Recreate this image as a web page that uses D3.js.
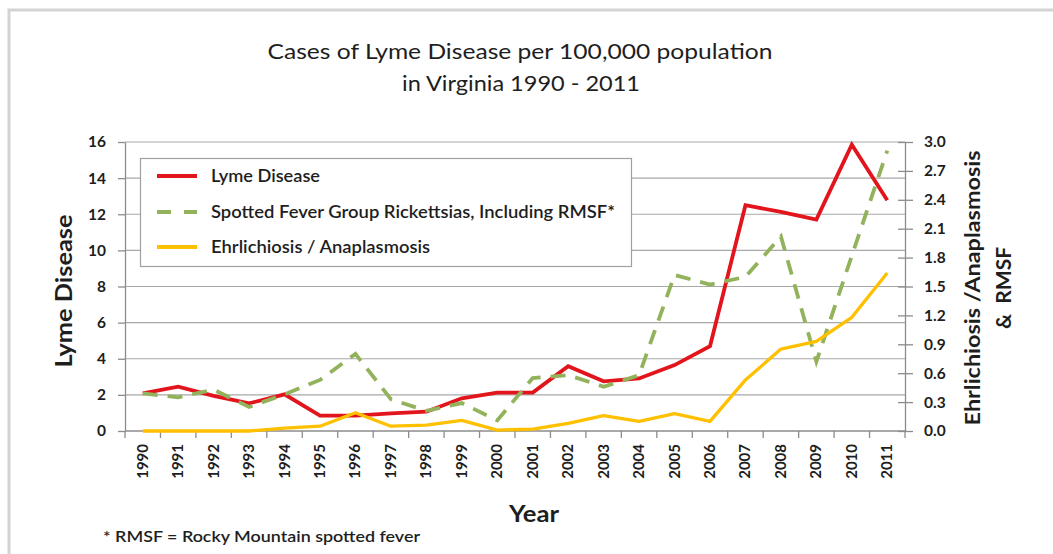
<!DOCTYPE html>
<html>
<head>
<meta charset="utf-8">
<script src="https://cdn.jsdelivr.net/npm/d3@7"></script>
<style>
  html, body { margin: 0; padding: 0; background: #fff; }
  svg { display: block; }
  text { font-family: Lato, "Open Sans", sans-serif; fill: #1e1e1e; }
</style>
</head>
<body>
<svg id="chart" width="1053" height="554"></svg>
<script>
// ---- data ----
const years = ["1990","1991","1992","1993","1994","1995","1996","1997","1998","1999","2000",
               "2001","2002","2003","2004","2005","2006","2007","2008","2009","2010","2011"];
const lyme = [2.08, 2.45, 1.95, 1.53, 2.03, 0.85, 0.85, 0.98, 1.07, 1.81, 2.12,
              2.13, 3.59, 2.75, 2.91, 3.65, 4.70, 12.5, 12.13, 11.7, 15.85, 12.77];
const spotted = [0.39, 0.35, 0.43, 0.25, 0.38, 0.53, 0.80, 0.33, 0.21, 0.29, 0.11,
                 0.55, 0.58, 0.46, 0.58, 1.62, 1.52, 1.60, 2.02, 0.72, 1.82, 2.91];
const ehrlich = [0.00, 0.00, 0.00, 0.00, 0.03, 0.05, 0.19, 0.05, 0.06, 0.11, 0.01,
                 0.02, 0.08, 0.16, 0.10, 0.18, 0.10, 0.53, 0.85, 0.93, 1.18, 1.64];
const leftTicks = [0, 2, 4, 6, 8, 10, 12, 14, 16];
const rightTicks = [0, 0.3, 0.6, 0.9, 1.2, 1.5, 1.8, 2.1, 2.4, 2.7, 3.0];
const titleLines = ["Cases of Lyme Disease per 100,000 population", "in Virginia 1990 - 2011"];
const seriesNames = ["Lyme Disease", "Spotted Fever Group Rickettsias, Including RMSF*", "Ehrlichiosis / Anaplasmosis"];
const leftTitle = "Lyme Disease";
const rightTitle = ["Ehrlichiosis /Anaplasmosis", "&  RMSF"];
const xTitle = "Year";
const footnote = "* RMSF = Rocky Mountain spotted fever";

// ---- layout ----
const svg = d3.select("#chart");
const L = 125, R = 905, T = 142, B = 431;
const colors = { lyme: "#e2141c", spotted: "#93b25c", ehrlich: "#ffc000" };

// outer frame
svg.append("path")
  .attr("d", `M9,560 L9,10 L1060,10`)
  .attr("fill", "none").attr("stroke", "#d3d3d3").attr("stroke-width", 3);

const x = d3.scaleBand().domain(years).range([L, R]);
const yL = d3.scaleLinear().domain([0, 16]).range([B, T]);
const yR = d3.scaleLinear().domain([0, 3]).range([B, T]);

// gridlines
svg.append("g").selectAll("line").data(leftTicks.filter(d => d > 0)).join("line")
  .attr("x1", L).attr("x2", R)
  .attr("y1", d => yL(d)).attr("y2", d => yL(d))
  .attr("stroke", "#a8a8a8").attr("stroke-width", 1.2);

// left axis
const gL = svg.append("g").attr("transform", `translate(${L},0)`)
  .call(d3.axisLeft(yL).tickValues(leftTicks).tickFormat(d3.format("d")).tickSize(7).tickSizeOuter(0).tickPadding(12));
gL.select(".domain").attr("stroke", "#8c8c8c").attr("stroke-width", 1.3);
gL.selectAll(".tick line").attr("stroke", "#8c8c8c").attr("stroke-width", 1.3);
gL.selectAll(".tick text").style("font-family", "Lato, sans-serif").style("font-size", "15.5px")
  .style("font-weight", "bold").attr("fill", "#1e1e1e");

// right axis
const gR = svg.append("g").attr("transform", `translate(${R},0)`)
  .call(d3.axisRight(yR).tickValues(rightTicks).tickFormat(d3.format(".1f")).tickSize(8).tickSizeOuter(0).tickPadding(11));
gR.select(".domain").attr("stroke", "#8c8c8c").attr("stroke-width", 1.3);
gR.selectAll(".tick line").attr("x1", -7).attr("stroke", "#8c8c8c").attr("stroke-width", 1.3);
gR.selectAll(".tick text").style("font-family", "Lato, sans-serif").style("font-size", "15.5px")
  .style("font-weight", "bold").attr("fill", "#1e1e1e");

// bottom axis
svg.append("line").attr("x1", L).attr("x2", R).attr("y1", B).attr("y2", B)
  .attr("stroke", "#8c8c8c").attr("stroke-width", 1.3);
const bounds = years.map(d => x(d)).concat([x(years[years.length - 1]) + x.bandwidth()]);
svg.append("g").selectAll("line").data(bounds).join("line")
  .attr("x1", d => d).attr("x2", d => d).attr("y1", B).attr("y2", B + 7)
  .attr("stroke", "#8c8c8c").attr("stroke-width", 1.3);
svg.append("g").selectAll("text").data(years).join("text")
  .attr("transform", d => `translate(${x(d) + x.bandwidth() / 2 + 5},${B + 13}) rotate(-90)`)
  .attr("text-anchor", "end")
  .style("font-size", "15px").style("font-weight", "bold")
  .text(d => d);

// lines
const cx = (d, i) => x(years[i]) + x.bandwidth() / 2;
const lineL = d3.line().x((d, i) => cx(d, i)).y(d => yL(d));
const lineR = d3.line().x((d, i) => cx(d, i)).y(d => yR(d));

svg.append("path").datum(lyme).attr("d", lineL)
  .attr("fill", "none").attr("stroke", colors.lyme).attr("stroke-width", 3.8).attr("stroke-linejoin", "miter");
svg.append("path").datum(spotted).attr("d", lineR)
  .attr("fill", "none").attr("stroke", colors.spotted).attr("stroke-width", 3.8)
  .attr("stroke-dasharray", "15,10");
svg.append("path").datum(ehrlich).attr("d", lineR)
  .attr("fill", "none").attr("stroke", colors.ehrlich).attr("stroke-width", 3.3).attr("stroke-linejoin", "round");

// legend
const lg = svg.append("g");
lg.append("rect").attr("x", 140.5).attr("y", 158.5).attr("width", 491).attr("height", 108)
  .attr("fill", "#fff").attr("stroke", "#a0a0a0").attr("stroke-width", 1.2);
const legendItems = [
  { name: seriesNames[0], color: colors.lyme, dash: null, w: 109 },
  { name: seriesNames[1], color: colors.spotted, dash: "14,13", w: 404 },
  { name: seriesNames[2], color: colors.ehrlich, dash: null, w: 219 }
];
const rowY = [176, 212, 247];
legendItems.forEach((it, i) => {
  lg.append("line").attr("x1", 157).attr("x2", 197).attr("y1", rowY[i]).attr("y2", rowY[i])
    .attr("stroke", it.color).attr("stroke-width", 4)
    .attr("stroke-dasharray", it.dash);
  lg.append("text").attr("x", 211).attr("y", rowY[i] + 5.5)
    .style("font-size", "16.5px").style("font-weight", "600")
    .attr("textLength", it.w).attr("lengthAdjust", "spacingAndGlyphs")
    .text(it.name);
});

// title
svg.append("text").attr("x", 520).attr("y", 59).attr("text-anchor", "middle")
  .style("font-size", "21px").attr("textLength", 505).attr("lengthAdjust", "spacingAndGlyphs")
  .text(titleLines[0]);
svg.append("text").attr("x", 521).attr("y", 91).attr("text-anchor", "middle")
  .style("font-size", "21px").attr("textLength", 238).attr("lengthAdjust", "spacingAndGlyphs")
  .text(titleLines[1]);

// axis titles
svg.append("text").attr("transform", "translate(72,291) rotate(-90)").attr("text-anchor", "middle")
  .style("font-size", "23px").style("font-weight", "bold")
  .attr("textLength", 153).attr("lengthAdjust", "spacingAndGlyphs")
  .text(leftTitle);
svg.append("text").attr("transform", "translate(980,288) rotate(-90)").attr("text-anchor", "middle")
  .style("font-size", "21px").style("font-weight", "bold")
  .attr("textLength", 275).attr("lengthAdjust", "spacingAndGlyphs")
  .text(rightTitle[0]);
svg.append("text").attr("transform", "translate(1011,288) rotate(-90)").attr("text-anchor", "middle")
  .style("font-size", "21px").style("font-weight", "bold")
  .attr("xml:space", "preserve")
  .text(rightTitle[1]);
svg.append("text").attr("x", 534).attr("y", 522).attr("text-anchor", "middle")
  .style("font-size", "23px").style("font-weight", "bold")
  .attr("textLength", 50).attr("lengthAdjust", "spacingAndGlyphs")
  .text(xTitle);

// footnote
svg.append("text").attr("x", 103).attr("y", 542)
  .style("font-size", "15.5px").style("font-weight", "600")
  .attr("textLength", 317).attr("lengthAdjust", "spacingAndGlyphs")
  .text(footnote);
</script>
</body>
</html>
